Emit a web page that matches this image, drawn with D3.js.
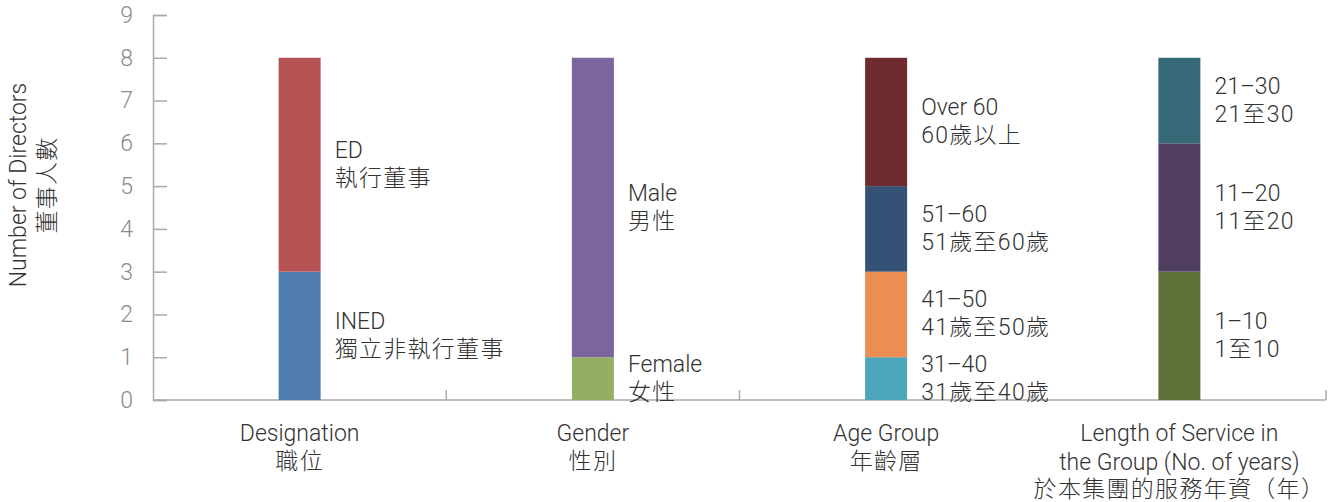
<!DOCTYPE html>
<html lang="en">
<head>
    <meta charset="UTF-8">
    <title>Board Diversity</title>
    <script src="https://d3js.org/d3.v7.min.js"></script>
    <style>
        body {
            margin: 0;
            background: #fff;
            overflow: hidden;
        }
        svg text {
            font-family: "Roboto", "Noto Sans CJK TC", sans-serif;
            font-weight: 300;
            font-size: 23px;
        }
        svg text.zh {
            font-family: "Roboto", "Noto Sans CJK TC", sans-serif;
            font-weight: 300;
            font-size: 23px;
            letter-spacing: 1.3px;
        }
    </style>
</head>
<body>
<script>
    // chart data
    const groups = ["Designation", "Gender", "Age Group", "Length of Service"];
    const groupLinesEn = [["Designation"], ["Gender"], ["Age Group"], ["Length of Service in", "the Group (No. of years)"]];
    const groupLinesZh = ["職位", "性別", "年齡層", "於本集團的服務年資（年）"];

    // segments, bottom to top
    const segEn = [
        ["INED", "ED"],
        ["Female", "Male"],
        ["31–40", "41–50", "51–60", "Over 60"],
        ["1–10", "11–20", "21–30"]
    ];
    const segZh = [
        ["獨立非執行董事", "執行董事"],
        ["女性", "男性"],
        ["31歲至40歲", "41歲至50歲", "51歲至60歲", "60歲以上"],
        ["1至10", "11至20", "21至30"]
    ];
    const segValues = [
        [3, 5],
        [1, 7],
        [1, 2, 2, 3],
        [3, 3, 2]
    ];
    const segColors = [
        ["#4e7bb0", "#b55355"],
        ["#93b062", "#7a659c"],
        ["#4ba6b9", "#ec8d53", "#355276", "#6e2c2e"],
        ["#607139", "#503f61", "#356977"]
    ];
    const yTicks = [0, 1, 2, 3, 4, 5, 6, 7, 8, 9];

    const width = 1330, height = 502;

    const svg = d3.select("body")
        .append("svg")
        .attr("width", width)
        .attr("height", height);

    const x = d3.scaleBand()
        .domain(groups)
        .range([153, 1326])
        .padding(0);

    const y = d3.scaleLinear()
        .domain([0, 9])
        .range([400, 15]);

    const barW = 42;
    const axisColor = "#aaaaaa";

    // y axis, ticks pointing inward
    const yAxis = svg.append("g")
        .attr("transform", `translate(${x.range()[0]},0)`)
        .call(d3.axisLeft(y).tickValues(yTicks).tickSize(-14).tickPadding(20).tickFormat(d3.format("d")));
    yAxis.select(".domain").attr("stroke", axisColor).attr("stroke-width", 1.5);
    yAxis.selectAll(".tick line").attr("stroke", axisColor).attr("stroke-width", 1.5);
    yAxis.selectAll(".tick text")
        .attr("font-size", null)
        .attr("font-family", null)
        .style("font-size", "23px")
        .attr("fill", "#8a8a8a");

    // x baseline
    svg.append("line")
        .attr("x1", x.range()[0]).attr("x2", x.range()[1])
        .attr("y1", y(0)).attr("y2", y(0))
        .attr("stroke", axisColor).attr("stroke-width", 1.5);

    // separators between groups
    const bounds = groups.slice(1).map(g => x(g)).concat([x.range()[1]]);
    svg.selectAll(".sep")
        .data(bounds)
        .join("line")
        .attr("class", "sep")
        .attr("x1", d => d).attr("x2", d => d)
        .attr("y1", y(0)).attr("y2", y(0) - 10)
        .attr("stroke", axisColor).attr("stroke-width", 1.5);

    // stacked bars + labels
    groups.forEach((g, gi) => {
        const cx = x(g) + x.bandwidth() / 2;
        let acc = 0;
        const segs = segValues[gi].map((v, si) => {
            const s = { y0: acc, y1: acc + v, en: segEn[gi][si], zh: segZh[gi][si], color: segColors[gi][si] };
            acc += v;
            return s;
        });

        const grp = svg.append("g");

        grp.selectAll("rect")
            .data(segs)
            .join("rect")
            .attr("x", cx - barW / 2)
            .attr("width", barW)
            .attr("y", d => y(d.y1))
            .attr("height", d => y(d.y0) - y(d.y1))
            .attr("fill", d => d.color);

        const lbl = grp.selectAll("g.lbl")
            .data(segs)
            .join("g")
            .attr("class", "lbl")
            .attr("transform", d => `translate(${cx + barW / 2 + 14},${y((d.y0 + d.y1) / 2)})`);

        lbl.append("text")
            .attr("y", -7)
            .attr("fill", "#333")
            .text(d => d.en);

        lbl.append("text")
            .attr("class", "zh")
            .attr("y", 21)
            .attr("fill", "#333")
            .text(d => d.zh);
    });

    // category labels under the axis
    groups.forEach((g, gi) => {
        const cx = x(g) + x.bandwidth() / 2;
        const lines = groupLinesEn[gi];
        const t = svg.append("g").attr("transform", `translate(${cx},0)`);
        lines.forEach((ln, li) => {
            t.append("text")
                .attr("y", 441 + li * 28.5)
                .attr("text-anchor", "middle")
                .attr("fill", "#333")
                .text(ln);
        });
        t.append("text")
            .attr("class", "zh")
            .attr("y", 440 + lines.length * 28.5)
            .attr("text-anchor", "middle")
            .attr("fill", "#333")
            .text(groupLinesZh[gi]);
    });

    // y axis title
    const title = svg.append("g")
        .attr("transform", "translate(0,185) rotate(-90)");
    title.append("text")
        .attr("y", 26)
        .attr("text-anchor", "middle")
        .attr("fill", "#333")
        .text("Number of Directors");
    title.append("text")
        .attr("class", "zh")
        .attr("y", 55)
        .attr("text-anchor", "middle")
        .attr("fill", "#333")
        .text("董事人數");
</script>
</body>
</html>
